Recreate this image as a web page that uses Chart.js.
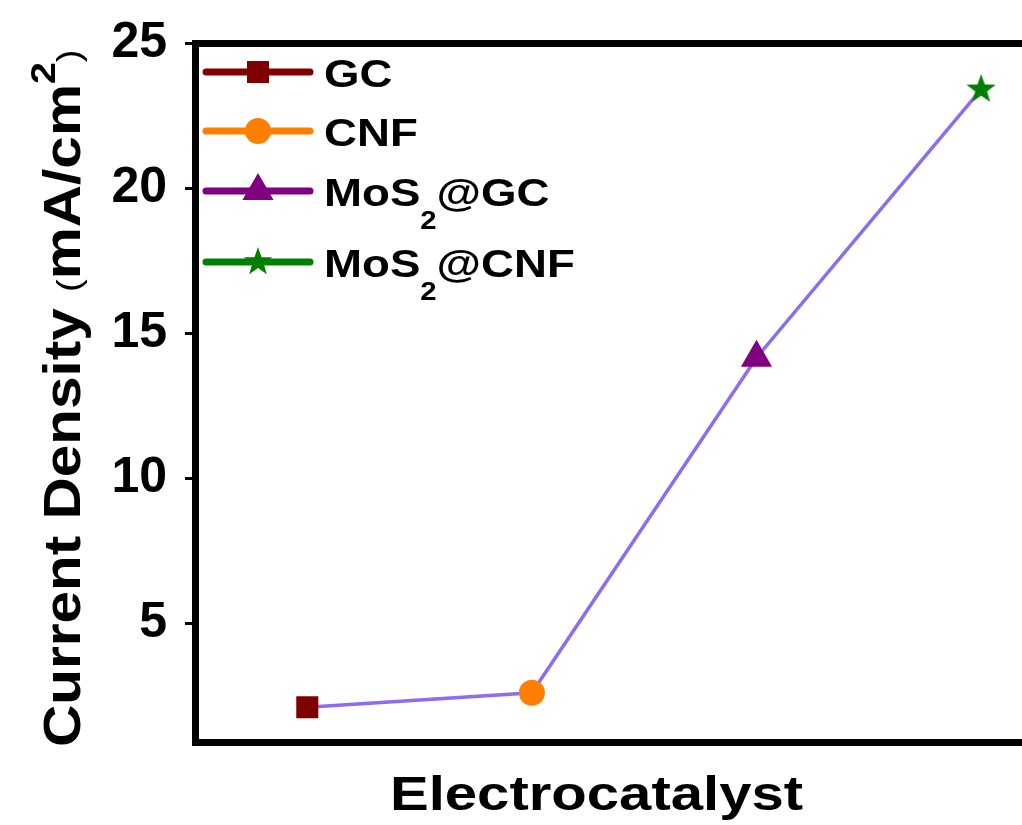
<!DOCTYPE html>
<html>
<head>
<meta charset="utf-8">
<script src="https://cdn.jsdelivr.net/npm/chart.js@4/dist/chart.umd.min.js"></script>
<style>
    html, body { margin: 0; padding: 0; background: #fff; overflow: hidden; }
    #wrap { width: 1109px; height: 825px; }
</style>
</head>
<body>
<div id="wrap"><canvas id="chart" width="1109" height="825"></canvas></div>
<script>
// Chart data
const categories = ['GC', 'CNF', 'MoS2@GC', 'MoS2@CNF'];
const currentDensity = [2.1, 2.6, 14.15, 23.4];
const yTickValues = [5, 10, 15, 20, 25];
const yMin = 0.9;
const yMax = 25;

// Styles
const markerColors = ['#800000', '#ff8000', '#800080', '#008000'];
const markerShapes = ['rect', 'circle', 'triangle', 'star'];
const lineColor = '#8c6cf0';
const FONT = '"Liberation Sans", Arial, sans-serif';

function starPath(ctx, x, y, R) {
    const r = R * 0.4;
    ctx.beginPath();
    for (let i = 0; i < 10; i++) {
        const a = -Math.PI / 2 + i * Math.PI / 5;
        const rad = i % 2 === 0 ? R : r;
        const px = x + Math.cos(a) * rad;
        const py = y + Math.sin(a) * rad;
        if (i === 0) ctx.moveTo(px, py); else ctx.lineTo(px, py);
    }
    ctx.closePath();
}

function makeStar(R, color) {
    const c = document.createElement('canvas');
    const s = Math.ceil(R * 2 + 4);
    c.width = s; c.height = s;
    const g = c.getContext('2d');
    g.fillStyle = color;
    starPath(g, s / 2, s / 2, R);
    g.fill();
    return c;
}

const pointStyles = markerShapes.map((s, i) => s === 'star' ? makeStar(15.5, markerColors[i]) : s);
const pointSizes = { rect: 15.6, circle: 13, triangle: 18, star: 10 };

function drawMarker(ctx, shape, x, y, color) {
    ctx.fillStyle = color;
    if (shape === 'rect') {
        ctx.fillRect(x - 11, y - 11, 22, 22);
    } else if (shape === 'circle') {
        ctx.beginPath();
        ctx.arc(x, y, 13, 0, Math.PI * 2);
        ctx.fill();
    } else if (shape === 'triangle') {
        const r = 18;
        ctx.beginPath();
        for (let i = 0; i < 3; i++) {
            const a = i * 2 * Math.PI / 3;
            const px = x + Math.sin(a) * r, py = y - Math.cos(a) * r;
            if (i === 0) ctx.moveTo(px, py); else ctx.lineTo(px, py);
        }
        ctx.closePath();
        ctx.fill();
    } else {
        starPath(ctx, x, y, 15);
        ctx.fill();
    }
}

// draw a run of text pieces with different fonts / baseline shifts
function drawParts(ctx, parts, sx) {
    let cx = 0;
    ctx.save();
    ctx.scale(sx, 1);
    parts.forEach(p => {
        ctx.font = p.font;
        ctx.fillText(p.text, cx, p.dy || 0);
        cx += ctx.measureText(p.text).width;
    });
    ctx.restore();
    return cx * sx;
}

function labelParts(label) {
    return label.split(/(2)/).filter(Boolean).map(t => t === '2'
        ? { text: '2', font: 'bold 25px ' + FONT, dy: 23 }
        : { text: t, font: 'bold 39px ' + FONT });
}

const textPlugin = {
    id: 'textPlugin',
    afterDraw(chart) {
        const ctx = chart.ctx;
        ctx.save();
        ctx.fillStyle = '#000';
        ctx.textBaseline = 'alphabetic';
        ctx.textAlign = 'left';

        // Legend
        const rows = [72, 131, 191, 262];
        categories.forEach((label, i) => {
            const y = rows[i];
            ctx.strokeStyle = markerColors[i];
            ctx.lineWidth = 7;
            ctx.lineCap = 'round';
            ctx.beginPath();
            ctx.moveTo(206, y);
            ctx.lineTo(310, y);
            ctx.stroke();
            drawMarker(ctx, markerShapes[i], 258, y, markerColors[i]);
            ctx.fillStyle = '#000';
            ctx.save();
            ctx.translate(324, y + 15);
            drawParts(ctx, labelParts(label), 1.17);
            ctx.restore();
        });

        // X axis title
        ctx.save();
        ctx.font = 'bold 49px ' + FONT;
        const xt = 'Electrocatalyst';
        const w = ctx.measureText(xt).width * 1.185;
        ctx.translate(596.5 - w / 2, 810);
        drawParts(ctx, [{ text: xt, font: 'bold 49px ' + FONT }], 1.185);
        ctx.restore();

        // Y axis title
        ctx.save();
        ctx.translate(80, 747);
        ctx.rotate(-Math.PI / 2);
        drawParts(ctx, [
            { text: 'Current Density ', font: 'bold 52px ' + FONT },
            { text: '(', font: '34px ' + FONT },
            { text: 'mA/cm', font: 'bold 52px ' + FONT },
            { text: '2', font: 'bold 35px ' + FONT, dy: -25 },
            { text: ')', font: '34px ' + FONT }
        ], 1.125);
        ctx.restore();

        ctx.restore();
    }
};

new Chart(document.getElementById('chart'), {
    type: 'line',
    data: {
        labels: categories,
        datasets: [{
            label: 'Current Density',
            data: currentDensity,
            borderColor: lineColor,
            borderWidth: 3.5,
            tension: 0,
            fill: false,
            pointStyle: pointStyles,
            pointRadius: markerShapes.map(s => pointSizes[s]),
            pointBackgroundColor: markerColors,
            pointBorderWidth: 0,
            pointBorderColor: markerColors
        }]
    },
    options: {
        responsive: false,
        animation: false,
        devicePixelRatio: 1,
        layout: { padding: { left: 0, right: 8, top: 42, bottom: 0 } },
        plugins: {
            legend: { display: false },
            tooltip: { enabled: false }
        },
        scales: {
            x: {
                offset: true,
                grid: { display: false },
                ticks: { display: false },
                border: { display: true, color: '#000', width: 7 },
                afterFit(s) { s.height = 83; }
            },
            x2: {
                type: 'category',
                position: 'top',
                offset: true,
                grid: { display: false },
                ticks: { display: false },
                border: { display: true, color: '#000', width: 7 },
                afterFit(s) { s.height = 0; }
            },
            y: {
                min: yMin,
                max: yMax,
                afterBuildTicks(axis) {
                    axis.ticks = yTickValues.map(v => ({ value: v }));
                },
                grid: {
                    drawOnChartArea: false,
                    drawTicks: true,
                    tickLength: 10,
                    tickWidth: 3,
                    tickColor: '#000'
                },
                border: { display: true, color: '#000', width: 7 },
                ticks: {
                    color: '#000',
                    padding: 18,
                    font: { family: FONT, size: 50, weight: 'bold', lineHeight: 1 }
                },
                afterFit(s) { s.width = 195; }
            }
        }
    },
    plugins: [textPlugin]
});
</script>
</body>
</html>
